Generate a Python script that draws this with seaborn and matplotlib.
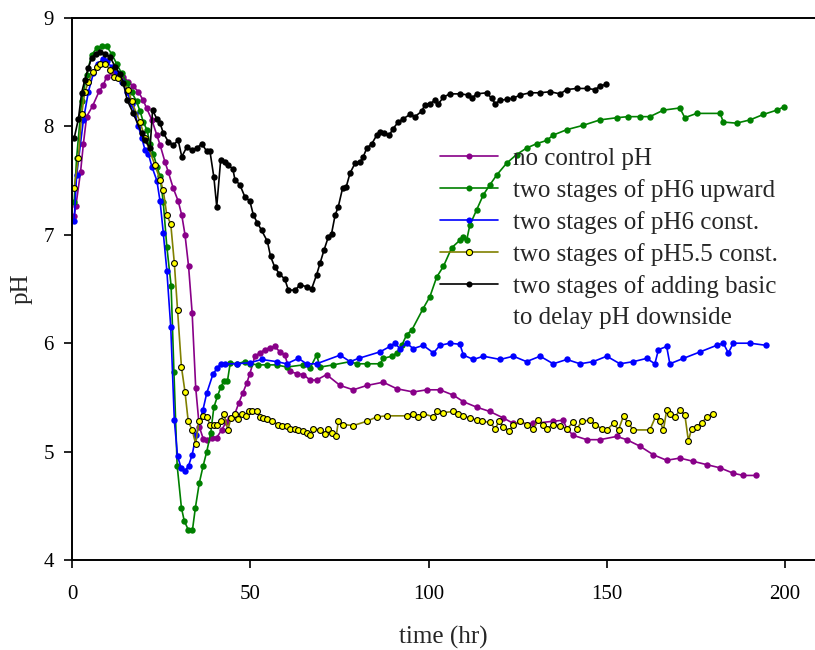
import matplotlib
matplotlib.use("Agg")
import matplotlib.pyplot as plt
from matplotlib.lines import Line2D
import pandas as pd
import seaborn as sns

# ---- measured pH during fermentation, time in hours ----
t_noctrl = [0.6, 1.1, 2.4, 3.2, 4.1, 5.8, 7.7, 8.8, 9.7, 11.6, 13.0, 14.4, 15.8, 17.2, 18.6,
            20.0, 20.9, 22.4, 23.8, 24.7, 26.1, 27.0, 28.4, 29.8, 30.8, 31.7, 32.7, 33.7, 34.7,
            35.7, 36.8, 37.8, 39.2, 40.6, 42.0, 43.2, 44.3, 45.7, 46.8, 47.9, 49.0, 49.9, 51.3,
            52.7, 54.1, 55.5, 56.9, 58.3, 59.7, 61.1, 63.0, 64.9, 66.8, 68.6, 71.4, 75.2, 78.9,
            82.7, 87.3, 91.1, 95.7, 99.5, 103.2, 107.0, 109.8, 113.5, 117.2, 121.0, 123.8,
            129.4, 135.0, 137.8, 138.8, 140.6, 144.4, 148.1, 152.8, 155.6, 159.3, 163.1, 166.8,
            170.5, 174.3, 178.0, 181.8, 185.5, 188.3, 192.0]
ph_noctrl = [7.17, 7.27, 7.58, 7.84, 8.09, 8.19, 8.33, 8.38, 8.46, 8.49, 8.48, 8.46, 8.41, 8.37, 8.32,
             8.24, 8.17, 8.06, 7.92, 7.83, 7.67, 7.58, 7.43, 7.31, 7.18, 7.00, 6.71, 6.28, 5.59,
             5.23, 5.12, 5.11, 5.13, 5.13, 5.20, 5.27, 5.31, 5.35, 5.45, 5.54, 5.63, 5.72, 5.88,
             5.91, 5.94, 5.96, 5.97, 5.92, 5.89, 5.74, 5.72, 5.71, 5.66, 5.66, 5.71, 5.61, 5.57,
             5.61, 5.64, 5.58, 5.55, 5.57, 5.57, 5.52, 5.46, 5.41, 5.37, 5.31, 5.26,
             5.26, 5.28, 5.29, 5.21, 5.15, 5.11, 5.11, 5.14, 5.11, 5.05, 4.97, 4.92,
             4.94, 4.91, 4.88, 4.85, 4.80, 4.78, 4.78]

t_up6 = [0.6, 1.3, 2.7, 4.1, 5.5, 6.9, 8.3, 9.7, 11.1, 12.5, 13.9, 15.4, 16.7, 18.1, 19.1, 20.0,
         21.0, 21.9, 22.8, 23.8, 24.7, 25.6, 26.6, 27.8, 28.6, 29.5, 30.7, 31.5, 32.6, 33.8, 34.6,
         35.7, 36.8, 37.8, 38.9, 39.8, 40.8, 41.8, 42.6, 43.6, 44.4, 46.2, 48.5, 49.9, 52.3, 54.6,
         57.4, 60.2, 64.9, 66.8, 68.6, 69.6, 73.3, 78.0, 79.9, 82.7, 86.4, 87.3, 89.7, 91.1, 92.5,
         93.9, 95.3, 98.5, 100.4, 102.3, 104.2, 106.5, 108.8, 109.8, 110.7, 111.6, 113.5, 115.4,
         117.2, 119.1, 121.9, 124.7, 127.5, 130.3, 133.1, 135.0, 138.8, 143.4, 148.1, 152.8, 156.0,
         159.3, 162.1, 165.9, 170.5, 171.9, 175.2, 181.8, 182.7, 186.4, 190.2, 193.9, 197.7, 199.7]
ph_up6 = [7.30, 7.71, 8.23, 8.47, 8.66, 8.72, 8.74, 8.74, 8.67, 8.58, 8.49, 8.40, 8.32, 8.23, 8.14, 8.04,
          7.97, 7.84, 7.75, 7.63, 7.54, 7.30, 6.89, 6.53, 5.73, 4.87, 4.48, 4.36, 4.28, 4.28, 4.48,
          4.71, 4.87, 5.00, 5.17, 5.41, 5.51, 5.60, 5.65, 5.65, 5.82, 5.81, 5.83, 5.81, 5.80, 5.80,
          5.80, 5.78, 5.80, 5.77, 5.89, 5.78, 5.80, 5.83, 5.81, 5.81, 5.81, 5.86, 5.88, 5.91, 5.98,
          6.08, 6.12, 6.32, 6.43, 6.61, 6.71, 6.88, 6.95, 6.98, 6.95, 7.09, 7.23, 7.37,
          7.46, 7.55, 7.66, 7.74, 7.80, 7.84, 7.87, 7.92, 7.97, 8.01, 8.06, 8.08, 8.09,
          8.09, 8.09, 8.15, 8.17, 8.08, 8.12, 8.12, 8.04, 8.03, 8.06, 8.11, 8.15, 8.18]

t_const6 = [0.6, 1.3, 3.2, 4.6, 6.0, 7.4, 8.6, 9.7, 11.1, 12.5, 13.9, 15.4, 16.7, 17.7, 18.6, 19.6,
            20.5, 21.4, 22.4, 23.8, 24.7, 25.6, 26.6, 27.7, 28.7, 29.6, 30.6, 31.7, 32.7, 33.7, 34.8,
            36.7, 37.8, 39.6, 40.8, 41.7, 43.0, 46.2, 49.9, 53.2, 57.4, 60.2, 63.5, 65.8, 68.6,
            75.2, 78.0, 80.4, 86.4, 89.2, 90.6, 92.0, 93.9, 95.7, 98.5, 101.4, 103.2, 106.0,
            108.8, 109.8, 112.6, 115.4, 120.1, 123.8, 127.5, 131.3, 135.0, 138.8, 142.5, 146.2,
            150.0, 153.7, 157.5, 161.2, 163.5, 164.5, 166.8, 167.7, 171.5, 176.2, 180.8, 182.7,
            184.1, 185.5, 190.2, 194.8]
ph_const6 = [7.13, 7.55, 8.06, 8.32, 8.49, 8.58, 8.62, 8.60, 8.55, 8.49, 8.41, 8.32, 8.21, 8.11, 8.00, 7.89,
             7.78, 7.75, 7.63, 7.50, 7.31, 7.02, 6.67, 6.15, 5.29, 4.96, 4.85, 4.82, 4.87, 4.97, 5.15,
             5.38, 5.54, 5.72, 5.77, 5.81, 5.81, 5.81, 5.82, 5.85, 5.83, 5.81, 5.86, 5.81, 5.81,
             5.89, 5.83, 5.86, 5.92, 5.97, 6.00, 5.95, 6.00, 5.95, 5.98, 5.91, 5.98, 6.00,
             5.99, 5.89, 5.85, 5.88, 5.85, 5.88, 5.83, 5.88, 5.81, 5.85, 5.81, 5.83,
             5.88, 5.81, 5.83, 5.86, 5.81, 5.94, 5.97, 5.81, 5.86, 5.92, 5.98, 6.00,
             5.91, 6.00, 6.00, 5.98]

t_const55 = [0.6, 1.8, 2.7, 3.6, 4.6, 5.8, 6.9, 7.9, 9.3, 10.7, 11.8, 13.0, 15.8, 16.7, 19.1, 20.5,
             23.3, 24.7, 25.6, 26.6, 27.7, 28.7, 29.6, 30.7, 31.7, 32.6, 33.7, 34.7, 35.6, 36.7,
             37.8, 38.7, 39.8, 40.8, 41.7, 42.6, 43.7, 44.6, 45.7, 46.6, 47.6, 48.7, 49.6, 50.6,
             51.8, 52.7, 53.6, 54.8, 56.0, 57.9, 58.8, 60.2, 61.2, 62.6, 63.5, 64.7, 65.8, 66.8,
             67.7, 69.6, 71.0, 71.9, 72.8, 74.1, 74.7, 76.1, 78.9, 82.7, 85.5, 88.3, 93.9, 95.7,
             97.0, 98.5, 101.4, 102.3, 104.2, 107.0, 108.4, 109.8, 111.6, 113.5, 114.9, 117.2,
             118.7, 119.8, 121.0, 122.7, 123.8, 125.7, 127.5, 129.4, 130.8, 132.0, 133.1, 135.0,
             136.9, 138.8, 140.6, 141.6, 143.0, 145.3, 146.7, 148.6, 150.0, 151.9, 153.3, 154.7,
             156.0, 157.5, 162.1, 163.8, 164.9, 165.9, 166.8, 167.7, 169.1, 170.5, 171.9, 172.9,
             173.8, 175.2, 176.6, 178.0, 179.9]
ph_const55 = [7.43, 7.71, 8.11, 8.32, 8.41, 8.50, 8.55, 8.58, 8.58, 8.52, 8.46, 8.45, 8.34, 8.23, 8.04, 7.89,
              7.64, 7.51, 7.41, 7.18, 7.10, 6.74, 6.31, 5.78, 5.55, 5.28, 5.20, 5.07, 5.28, 5.33,
              5.32, 5.25, 5.25, 5.25, 5.28, 5.35, 5.20, 5.31, 5.35, 5.30, 5.35, 5.33, 5.37, 5.37,
              5.37, 5.32, 5.31, 5.30, 5.28, 5.25, 5.24, 5.24, 5.21, 5.21, 5.20, 5.19, 5.17, 5.15,
              5.21, 5.20, 5.16, 5.21, 5.17, 5.14, 5.28, 5.25, 5.24, 5.28, 5.32, 5.33, 5.33, 5.35,
              5.32, 5.35, 5.32, 5.37, 5.36, 5.37, 5.35, 5.33, 5.31, 5.29, 5.28, 5.27,
              5.21, 5.28, 5.23, 5.19, 5.25, 5.28, 5.25, 5.21, 5.29, 5.25, 5.21, 5.25,
              5.24, 5.21, 5.27, 5.21, 5.28, 5.29, 5.25, 5.21, 5.20, 5.26, 5.20, 5.33,
              5.26, 5.20, 5.20, 5.33, 5.28, 5.20, 5.38, 5.35, 5.32, 5.38, 5.34, 5.10,
              5.21, 5.23, 5.26, 5.32, 5.35]

t_basic = [0.6, 1.8, 2.7, 3.6, 4.6, 5.5, 6.7, 7.9, 9.3, 10.7, 12.1, 13.5, 14.4, 15.5, 17.2, 19.5,
           20.5, 21.9, 22.6, 23.8, 24.7, 25.6, 27.0, 28.4, 29.8, 30.8, 32.2, 33.6, 35.0, 36.4,
           37.8, 38.7, 39.8, 40.6, 41.7, 42.9, 43.8, 45.1, 45.7, 47.1, 48.5, 49.9, 50.9, 52.0,
           53.2, 54.8, 55.7, 56.9, 58.2, 59.7, 60.7, 62.6, 64.0, 65.8, 67.2, 68.6, 69.6, 70.7,
           71.9, 72.8, 73.8, 74.7, 75.9, 76.9, 78.0, 79.4, 80.8, 81.7, 82.7, 84.1, 85.5, 86.4,
           87.5, 89.0, 90.1, 91.5, 92.9, 94.8, 96.2, 98.1, 99.0, 100.4, 101.8, 102.8, 104.2,
           106.0, 108.8, 111.2, 112.1, 113.5, 116.3, 117.7, 118.7, 120.1, 122.0, 123.8, 125.7,
           128.5, 131.3, 134.1, 136.9, 138.8, 141.6, 144.4, 146.7, 148.1, 149.8]
ph_basic = [7.89, 8.07, 8.31, 8.43, 8.54, 8.63, 8.67, 8.69, 8.67, 8.64, 8.55, 8.48, 8.40, 8.24, 8.12, 7.94,
            7.87, 7.80, 8.15, 8.07, 8.03, 7.94, 7.86, 7.83, 7.87, 7.72, 7.81, 7.78, 7.80, 7.84,
            7.77, 7.77, 7.53, 7.26, 7.69, 7.67, 7.64, 7.61, 7.51, 7.46, 7.35, 7.31, 7.18, 7.11,
            7.04, 6.94, 6.80, 6.70, 6.64, 6.59, 6.49, 6.49, 6.54, 6.52, 6.50, 6.63, 6.74, 6.86,
            6.98, 7.01, 7.18, 7.26, 7.43, 7.44, 7.57, 7.66, 7.67, 7.72, 7.80, 7.84, 7.92, 7.95,
            7.94, 7.92, 7.98, 8.04, 8.07, 8.11, 8.09, 8.14, 8.20, 8.21, 8.24, 8.21, 8.27,
            8.30, 8.30, 8.29, 8.26, 8.30, 8.31, 8.26, 8.21, 8.24, 8.25, 8.26, 8.29,
            8.31, 8.31, 8.32, 8.30, 8.34, 8.35, 8.35, 8.34, 8.37, 8.39]

labels = ["no control pH",
          "two stages of pH6 upward",
          "two stages of pH6 const.",
          "two stages of pH5.5 const.",
          "two stages of adding basic"]
extra_label = "to delay pH downside"

x_ticks = [0, 50, 100, 150, 200]
y_ticks = [4, 5, 6, 7, 8, 9]

frames = []
for name, t, ph in zip(labels,
                       [t_noctrl, t_up6, t_const6, t_const55, t_basic],
                       [ph_noctrl, ph_up6, ph_const6, ph_const55, ph_basic]):
    frames.append(pd.DataFrame({"time": t, "pH": ph, "run": name}))
df = pd.concat(frames, ignore_index=True)

# line colour, marker face, marker edge, marker edge width
styles = {
    labels[0]: ("#880088", "#880088", "#880088", 0.0),
    labels[1]: ("#008000", "#008000", "#008000", 0.0),
    labels[2]: ("#0000ff", "#0000ff", "#0000ff", 0.0),
    labels[3]: ("#808000", "#ffff00", "#000000", 0.8),
    labels[4]: ("#000000", "#000000", "#000000", 0.0),
}

sns.set_style("ticks")
plt.rcParams["font.family"] = ["Liberation Serif", "DejaVu Serif"]

fig = plt.figure(figsize=(8.15, 6.5), dpi=100)
ax = fig.add_axes([72 / 815, 90 / 650, 743 / 815, 542 / 650])

for name in labels:
    lc, mfc, mec, mew = styles[name]
    sub = df[df["run"] == name]
    ms = 4.6 if name != labels[3] else 4.2
    sns.lineplot(data=sub, x="time", y="pH", ax=ax, sort=False, estimator=None,
                 color=lc, linewidth=1.2, marker="o", markersize=ms,
                 markerfacecolor=mfc, markeredgecolor=mec, markeredgewidth=mew,
                 legend=False)

ax.set_xlim(0, 743 / 3.565)
ax.set_ylim(4, 9)
ax.set_xticks(x_ticks)
ax.set_yticks(y_ticks)
ax.tick_params(axis="both", direction="out", length=6, width=1.2,
               labelsize=15, colors="black")
ax.tick_params(axis="x", pad=12)
ax.tick_params(axis="y", pad=7)
for side in ["left", "bottom", "top"]:
    ax.spines[side].set_linewidth(1.4)
    ax.spines[side].set_color("black")
ax.spines["right"].set_visible(False)

ax.set_xlabel("time (hr)", fontsize=18, labelpad=16)
ax.set_ylabel("pH", fontsize=18, labelpad=8)

handles = []
for name in labels:
    lc, mfc, mec, mew = styles[name]
    handles.append(Line2D([], [], color=lc, linewidth=1.2, marker="o", markersize=4.4,
                          markerfacecolor=mfc, markeredgecolor=mec, markeredgewidth=mew))
handles.append(Line2D([], [], linestyle="none", marker=None))
leg = ax.legend(handles, labels + [extra_label], loc="upper left",
                bbox_to_anchor=(0.4953, 0.761), frameon=False, fontsize=18,
                handlelength=2.3, handletextpad=0.6, labelspacing=0.36,
                borderpad=0, borderaxespad=0)

fig.savefig("out.png", dpi=100)
